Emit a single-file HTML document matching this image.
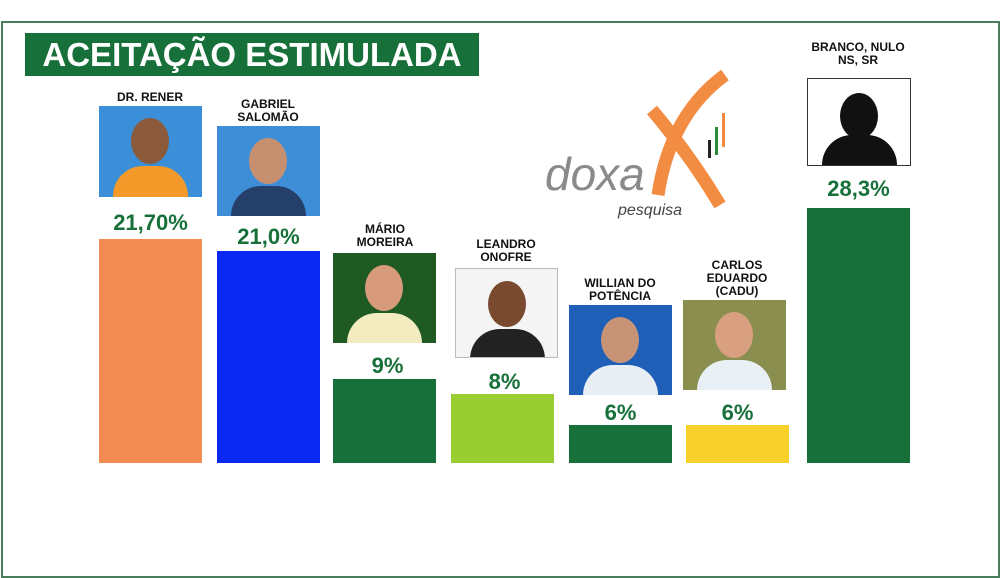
<!DOCTYPE html>
<html><head><meta charset="utf-8"><style>
body{margin:0;width:1000px;height:577px;background:#fff;position:relative;overflow:hidden;font-family:"Liberation Sans",sans-serif}
.a{position:absolute}
.frame{left:1px;top:21px;width:995px;height:553px;border:2px solid #4a7d5c}
.title{left:25px;top:33px;width:454px;height:43px;background:#17703a;color:#fff;font-weight:bold;font-size:33px;line-height:43px;text-align:center}
.bar{position:absolute;bottom:114px;width:103px}
.pct{position:absolute;width:103px;text-align:center;color:#17703a;font-weight:bold;font-size:22px}
.nm{position:absolute;width:120px;text-align:center;font-weight:bold;font-size:12px;line-height:13px;color:#111}
.ph{position:absolute;width:103px;height:90px;background:#8a6a55;overflow:hidden}
.face{position:absolute;left:32px;top:12px;width:38px;height:46px;border-radius:50%;background:#c48a62}
.body{position:absolute;left:14px;top:60px;width:75px;height:40px;border-radius:30px 30px 0 0}
</style></head><body>
<div class="a frame"></div>
<div class="a title">ACEITAÇÃO ESTIMULADA</div>

<div class="bar" style="left:99px;top:239px;background:#f28c52"></div>
<div class="bar" style="left:217px;top:251px;background:#0a28f0"></div>
<div class="bar" style="left:333px;top:379px;background:#17703a"></div>
<div class="bar" style="left:451px;top:394px;background:#9acd32"></div>
<div class="bar" style="left:569px;top:425px;background:#17703a"></div>
<div class="bar" style="left:686px;top:425px;background:#f7d12a"></div>
<div class="bar" style="left:807px;top:208px;background:#17703a"></div>

<div class="pct" style="left:99px;top:210px">21,70%</div>
<div class="pct" style="left:217px;top:224px">21,0%</div>
<div class="pct" style="left:336px;top:353px">9%</div>
<div class="pct" style="left:453px;top:369px">8%</div>
<div class="pct" style="left:569px;top:400px">6%</div>
<div class="pct" style="left:686px;top:400px">6%</div>
<div class="pct" style="left:807px;top:176px">28,3%</div>

<div class="nm" style="left:90px;top:91px">DR. RENER</div>
<div class="nm" style="left:208px;top:98px">GABRIEL<br>SALOMÃO</div>
<div class="nm" style="left:325px;top:223px">MÁRIO<br>MOREIRA</div>
<div class="nm" style="left:446px;top:238px">LEANDRO<br>ONOFRE</div>
<div class="nm" style="left:560px;top:277px">WILLIAN DO<br>POTÊNCIA</div>
<div class="nm" style="left:677px;top:259px">CARLOS<br>EDUARDO<br>(CADU)</div>
<div class="nm" style="left:798px;top:41px">BRANCO, NULO<br>NS, SR</div>

<div class="ph" style="left:99px;top:106px;height:91px;background:#3a8fd8"><div class="face" style="background:#8a5a3a"></div><div class="body" style="background:#f39a2a"></div></div>
<div class="ph" style="left:217px;top:126px;background:#3d8ed6"><div class="face" style="background:#c69070"></div><div class="body" style="background:#24406a"></div></div>
<div class="ph" style="left:333px;top:253px;background:#1e5a22"><div class="face" style="background:#d79a7a"></div><div class="body" style="background:#f2ecc0"></div></div>
<div class="ph" style="left:455px;top:268px;background:#f4f4f4;border:1px solid #bbb;width:101px;height:88px"><div class="face" style="background:#7a4a30"></div><div class="body" style="background:#222"></div></div>
<div class="ph" style="left:569px;top:305px;background:#1f5fb8"><div class="face" style="background:#c89478"></div><div class="body" style="background:#e8eef4"></div></div>
<div class="ph" style="left:683px;top:300px;background:#8a8f50"><div class="face" style="background:#d8a080"></div><div class="body" style="background:#e8f0f6"></div></div>
<div class="ph" style="left:807px;top:78px;height:86px;background:#fff;border:1px solid #333;width:102px"><div class="face" style="background:#111;top:14px"></div><div class="body" style="background:#111;top:56px"></div></div>

<svg class="a" style="left:540px;top:65px" width="200" height="160">
<path d="M112 45 Q150 90 180 140" stroke="#f28c42" stroke-width="13" fill="none"/>
<path d="M185 10 Q130 50 118 130" stroke="#f28c42" stroke-width="13" fill="none"/>
<rect x="168" y="75" width="3" height="18" fill="#222"/><rect x="175" y="62" width="3" height="28" fill="#2a8a3a"/><rect x="182" y="48" width="3" height="34" fill="#f28c42"/>
<text x="5" y="125" font-family="Liberation Sans,sans-serif" font-size="46" font-style="italic" fill="#8a8a8a">doxa</text>
<text x="78" y="150" font-family="Liberation Sans,sans-serif" font-size="16" font-style="italic" fill="#444">pesquisa</text>
</svg>
</body></html>
